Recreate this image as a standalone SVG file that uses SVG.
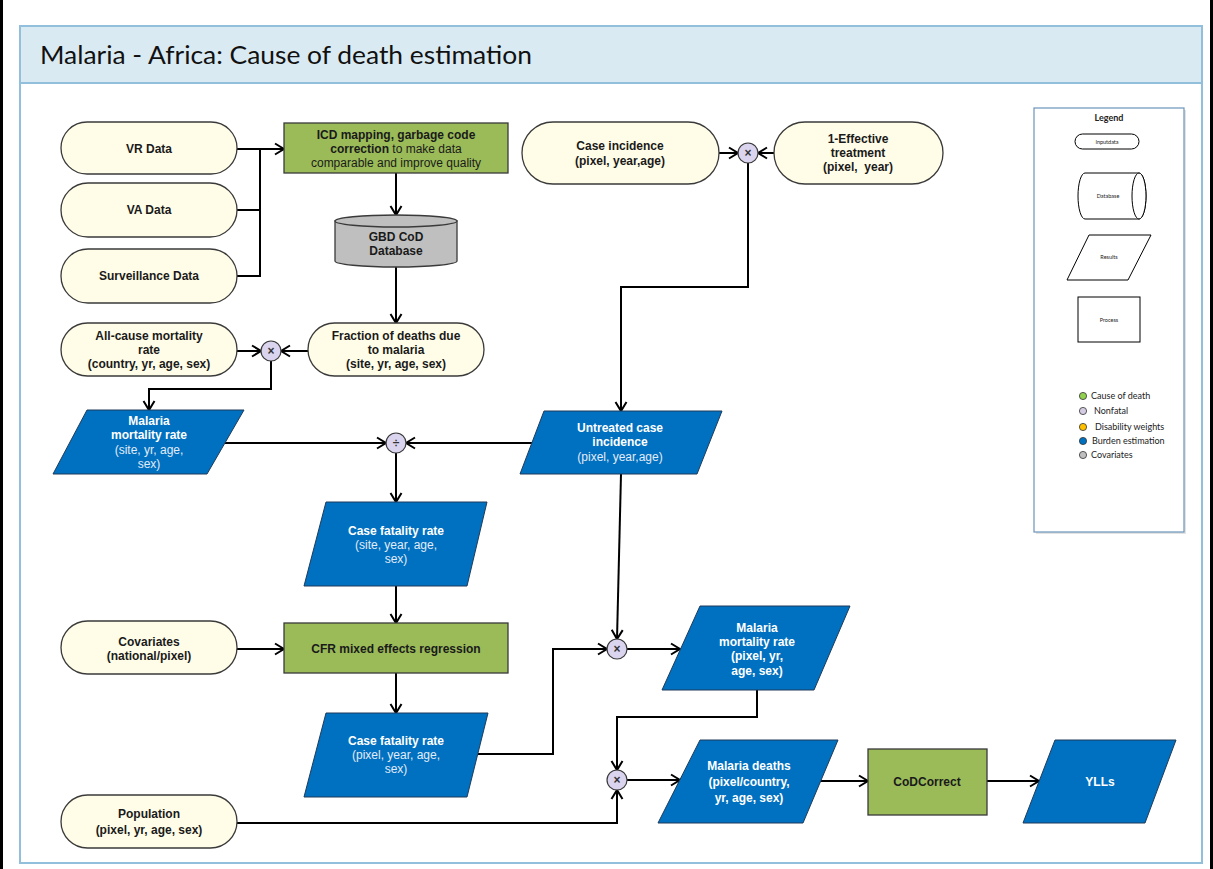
<svg xmlns="http://www.w3.org/2000/svg" width="1213" height="869" viewBox="0 0 1213 869">
  <style>
    .pill { fill: #FFFDE8; stroke: #3A3A3A; stroke-width: 1.3; }
    .proc { fill: #9BBB59; stroke: #3A3A3A; stroke-width: 1.3; }
    .res  { fill: #0070C0; stroke: #1F3B5A; stroke-width: 1; }
    .op   { fill: #DAD4EE; stroke: #3A3A3A; stroke-width: 1.2; }
    .t    { font-family: "Liberation Sans", Arial, sans-serif; font-size: 12px; text-anchor: middle; fill: #1A1A1A; }
    .b    { font-weight: bold; }
    .w    { fill: #FFFFFF; }
    .wl   { fill: #E3ECF7; font-weight: normal; }
    .opt  { font-family: "Liberation Sans", Arial, sans-serif; font-size: 12px; font-weight: bold; text-anchor: middle; fill: #333; }
    .lg   { font-family: Lato, "Liberation Sans", sans-serif; fill: #222; }
    .conn path { fill: none; stroke: #000; stroke-width: 2; marker-end: url(#arr); }
    .conn path.plain { marker-end: none; }
    .legshape { fill: #FFFFFF; stroke: #000; stroke-width: 1; }
  </style>
  <defs>
    <marker id="arr" markerUnits="userSpaceOnUse" markerWidth="14" markerHeight="14" viewBox="-11 -7 14 14" refX="0" refY="0" orient="auto">
      <path d="M-9,-5.5 L0,0 L-9,5.5" fill="none" stroke="#000" stroke-width="2"/>
    </marker>
  </defs>

  <!-- page edges -->
  <line x1="1.5" y1="0" x2="1.5" y2="869" stroke="#000" stroke-width="3"/>
  <line x1="1211.5" y1="0" x2="1211.5" y2="869" stroke="#000" stroke-width="3"/>

  <!-- frame and title bar -->
  <g id="frame">
    <rect x="20" y="26" width="1182" height="837" fill="#FFFFFF" stroke="#92C0DC" stroke-width="2"/>
    <rect x="20" y="26" width="1182" height="57" fill="#DAEAF3" stroke="#92C0DC" stroke-width="2"/>
    <text x="40" y="64" font-family="Lato, 'Liberation Sans', sans-serif" font-size="25" fill="#111" textLength="492" lengthAdjust="spacingAndGlyphs">Malaria - Africa: Cause of death estimation</text>
  </g>

  <!-- legend -->
  <g id="legend">
    <rect x="1036" y="110" width="150" height="424" fill="#D0D0D0" opacity="0.6"/>
    <rect x="1034" y="108" width="150" height="424" fill="#FFFFFF" stroke="#6A94BC" stroke-width="1.2"/>
    <text class="lg" x="1109" y="121" font-size="9" font-weight="bold" text-anchor="middle">Legend</text>
    <rect class="legshape" x="1075" y="134" width="64" height="15" rx="7.5"/>
    <text class="lg" x="1107" y="144" font-size="5.5" text-anchor="middle">Inputdata</text>
    <path class="legshape" d="M1085,173 H1139 A7,23 0 0,1 1139,219 H1085 A7,23 0 0,1 1085,173 Z"/>
    <ellipse class="legshape" cx="1139" cy="196" rx="7" ry="23"/>
    <text class="lg" x="1108" y="198" font-size="5.5" text-anchor="middle">Database</text>
    <polygon class="legshape" points="1089,235 1151,235 1128,280 1067,280"/>
    <text class="lg" x="1109" y="259" font-size="5.5" text-anchor="middle">Results</text>
    <rect class="legshape" x="1078" y="297" width="62" height="45"/>
    <text class="lg" x="1109" y="322" font-size="5.5" text-anchor="middle">Process</text>
    <circle cx="1083" cy="396" r="3.6" fill="#92D050" stroke="#333" stroke-width="0.8"/>
    <text class="lg" x="1091" y="399" font-size="9">Cause of death</text>
    <circle cx="1083" cy="411" r="3.6" fill="#D4CCE4" stroke="#333" stroke-width="0.8"/>
    <text class="lg" x="1094" y="414" font-size="9">Nonfatal</text>
    <circle cx="1083" cy="427" r="3.6" fill="#FFC000" stroke="#333" stroke-width="0.8"/>
    <text class="lg" x="1095" y="430" font-size="9">Disability weights</text>
    <circle cx="1083" cy="441" r="3.6" fill="#0070C0" stroke="#333" stroke-width="0.8"/>
    <text class="lg" x="1092" y="444" font-size="9">Burden estimation</text>
    <circle cx="1083" cy="455" r="3.6" fill="#BFBFBF" stroke="#333" stroke-width="0.8"/>
    <text class="lg" x="1091" y="458" font-size="9">Covariates</text>
  </g>

  <!-- connectors -->
  <g id="connectors" class="conn">
    <path d="M237,149 H284"/>
    <path class="plain" d="M237,210 H260"/>
    <path class="plain" d="M237,276 H260 V149"/>
    <path d="M396,173 V215"/>
    <path d="M396,266 V323"/>
    <path d="M237,351 H261"/>
    <path d="M308,351 H281"/>
    <path d="M271,361 V389 H149 V410"/>
    <path d="M225,443 H386"/>
    <path d="M532,443 H406"/>
    <path d="M719,153 H738"/>
    <path d="M774,153 H758"/>
    <path d="M748,163 V287 H621 V411"/>
    <path d="M396,453 V502"/>
    <path d="M396,586 V623"/>
    <path d="M237,649 H284"/>
    <path d="M396,673 V713"/>
    <path d="M621,474 L617,639"/>
    <path d="M478,754 H553 V649 H607"/>
    <path d="M627,649 H680"/>
    <path d="M757,690 V717 H617 V770"/>
    <path d="M237,823 H617 V790"/>
    <path d="M627,780 H680"/>
    <path d="M821,781 H868"/>
    <path d="M987,781 H1039"/>
  </g>

  <!-- input data -->
  <g id="vr-data">
    <rect class="pill" x="61" y="122" width="176" height="52" rx="26"/>
    <text class="t b" x="149" y="153">VR Data</text>
  </g>
  <g id="va-data">
    <rect class="pill" x="61" y="183" width="176" height="54" rx="27"/>
    <text class="t b" x="149" y="214">VA Data</text>
  </g>
  <g id="surveillance-data">
    <rect class="pill" x="61" y="249" width="176" height="54" rx="27"/>
    <text class="t b" x="149" y="280">Surveillance Data</text>
  </g>

  <g id="icd-mapping">
    <rect class="proc" x="284" y="123" width="224" height="50"/>
    <text class="t" x="396" y="139"><tspan class="b">ICD mapping, garbage code</tspan></text>
    <text class="t" x="396" y="153"><tspan class="b">correction</tspan> to make data</text>
    <text class="t" x="396" y="167">comparable and improve quality</text>
  </g>

  <g id="gbd-cod-database">
    <path d="M335,221 V261 A61,6 0 0,0 457,261 V221 Z" fill="#BFBFBF" stroke="#3A3A3A" stroke-width="1.3"/>
    <ellipse cx="396" cy="221" rx="61" ry="6" fill="#BFBFBF" stroke="#3A3A3A" stroke-width="1.3"/>
    <text class="t b" x="396" y="241">GBD CoD</text>
    <text class="t b" x="396" y="255">Database</text>
  </g>

  <g id="all-cause-mortality">
    <rect class="pill" x="61" y="323" width="176" height="53" rx="26.5"/>
    <text class="t b" x="149" y="340">All-cause mortality</text>
    <text class="t b" x="149" y="354">rate</text>
    <text class="t b" x="149" y="368">(country, yr, age, sex)</text>
  </g>

  <g id="fraction-deaths">
    <rect class="pill" x="308" y="323" width="176" height="53" rx="26.5"/>
    <text class="t b" x="396" y="340">Fraction of deaths due</text>
    <text class="t b" x="396" y="354">to malaria</text>
    <text class="t b" x="396" y="368">(site, yr, age, sex)</text>
  </g>

  <g id="op-multiply-1">
    <circle class="op" cx="271" cy="351" r="10"/>
    <text class="opt" x="271" y="355">×</text>
  </g>

  <g id="malaria-mortality-site">
    <polygon class="res" points="87,410 244,410 207,474 53,474"/>
    <text class="t b w" x="149" y="425">Malaria</text>
    <text class="t b w" x="149" y="439">mortality rate</text>
    <text class="t wl" x="149" y="454">(site, yr, age,</text>
    <text class="t wl" x="149" y="468">sex)</text>
  </g>

  <g id="op-divide">
    <circle class="op" cx="396" cy="443" r="10"/>
    <text class="opt" x="396" y="447" fill="#888" font-weight="normal">÷</text>
  </g>

  <g id="case-incidence">
    <rect class="pill" x="522" y="122" width="197" height="62" rx="31"/>
    <text class="t b" x="620" y="150">Case incidence</text>
    <text class="t b" x="620" y="165">(pixel, year,age)</text>
  </g>

  <g id="effective-treatment">
    <rect class="pill" x="774" y="122" width="169" height="62" rx="31"/>
    <text class="t b" x="858" y="143">1-Effective</text>
    <text class="t b" x="858" y="157">treatment</text>
    <text class="t b" x="858" y="171" xml:space="preserve">(pixel,  year)</text>
  </g>

  <g id="op-multiply-2">
    <circle class="op" cx="748" cy="153" r="10"/>
    <text class="opt" x="748" y="157">×</text>
  </g>

  <g id="untreated-incidence">
    <polygon class="res" points="544,411 722,411 697,474 520,474"/>
    <text class="t b w" x="620" y="432">Untreated case</text>
    <text class="t b w" x="620" y="446">incidence</text>
    <text class="t wl" x="620" y="461">(pixel, year,age)</text>
  </g>

  <g id="cfr-site">
    <polygon class="res" points="326,502 487,502 467,586 304,586"/>
    <text class="t b w" x="396" y="535">Case fatality rate</text>
    <text class="t wl" x="396" y="549">(site, year, age,</text>
    <text class="t wl" x="396" y="563">sex)</text>
  </g>

  <g id="covariates">
    <rect class="pill" x="61" y="621" width="176" height="53" rx="26.5"/>
    <text class="t b" x="149" y="646">Covariates</text>
    <text class="t b" x="149" y="660">(national/pixel)</text>
  </g>

  <g id="cfr-regression">
    <rect class="proc" x="284" y="623" width="224" height="50"/>
    <text class="t b" x="396" y="653">CFR mixed effects regression</text>
  </g>

  <g id="cfr-pixel">
    <polygon class="res" points="326,713 488,713 467,797 304,797"/>
    <text class="t b w" x="396" y="745">Case fatality rate</text>
    <text class="t wl" x="396" y="759">(pixel, year, age,</text>
    <text class="t wl" x="396" y="773">sex)</text>
  </g>

  <g id="op-multiply-3">
    <circle class="op" cx="617" cy="649" r="10"/>
    <text class="opt" x="617" y="653">×</text>
  </g>

  <g id="malaria-mortality-pixel">
    <polygon class="res" points="700,606 850,606 814,690 662,690"/>
    <text class="t b w" x="757" y="632">Malaria</text>
    <text class="t b w" x="757" y="646">mortality rate</text>
    <text class="t b w" x="757" y="660">(pixel, yr,</text>
    <text class="t b w" x="757" y="675">age, sex)</text>
  </g>

  <g id="population">
    <rect class="pill" x="61" y="795" width="176" height="53" rx="26.5"/>
    <text class="t b" x="149" y="818">Population</text>
    <text class="t b" x="149" y="834">(pixel, yr, age, sex)</text>
  </g>

  <g id="op-multiply-4">
    <circle class="op" cx="617" cy="780" r="10"/>
    <text class="opt" x="617" y="784">×</text>
  </g>

  <g id="malaria-deaths">
    <polygon class="res" points="700,740 838,740 803,823 658,823"/>
    <text class="t b w" x="749" y="770">Malaria deaths</text>
    <text class="t b w" x="749" y="786">(pixel/country,</text>
    <text class="t b w" x="749" y="802">yr, age, sex)</text>
  </g>

  <g id="codcorrect">
    <rect class="proc" x="868" y="749" width="119" height="66"/>
    <text class="t b" x="927" y="786">CoDCorrect</text>
  </g>

  <g id="ylls">
    <polygon class="res" points="1055,740 1176,740 1145,823 1023,823"/>
    <text class="t b w" x="1100" y="786">YLLs</text>
  </g>
</svg>
